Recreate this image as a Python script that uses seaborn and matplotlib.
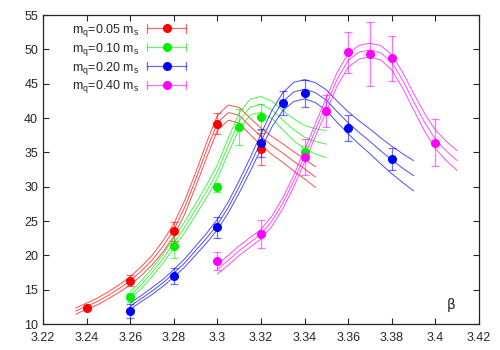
import numpy as np
import pandas as pd
import seaborn as sns
import matplotlib.pyplot as plt
from matplotlib.lines import Line2D
from matplotlib.legend_handler import HandlerBase

# measured points (beta, value, error)
red_beta = [3.24, 3.26, 3.28, 3.30, 3.32]
red_val = [12.4, 16.3, 23.5, 39.2, 35.5]
red_err = [0.4, 0.8, 1.4, 1.5, 2.3]

green_beta = [3.26, 3.28, 3.30, 3.31, 3.32, 3.34]
green_val = [13.9, 21.4, 29.9, 38.7, 40.2, 35.0]
green_err = [0.7, 1.8, 0.7, 2.6, 1.9, 1.0]

blue_beta = [3.26, 3.28, 3.30, 3.32, 3.33, 3.34, 3.36, 3.38]
blue_val = [11.9, 17.0, 24.1, 36.4, 42.2, 43.6, 38.5, 34.0]
blue_err = [1.0, 1.2, 1.5, 2.0, 1.7, 2.0, 1.9, 1.6]

mag_beta = [3.30, 3.32, 3.34, 3.35, 3.36, 3.37, 3.38, 3.40]
mag_val = [19.2, 23.1, 34.3, 41.0, 49.6, 49.3, 48.7, 36.4]
mag_err = [1.3, 2.0, 2.6, 2.3, 3.0, 4.7, 3.3, 3.4]

# fit curves (centre and half width of the band)
red_fit_beta = [3.235, 3.24, 3.245, 3.25, 3.255, 3.26, 3.265, 3.27, 3.275, 3.28, 3.285, 3.29,
                3.295, 3.30, 3.305, 3.31, 3.315, 3.32, 3.325, 3.33, 3.335, 3.34, 3.345]
red_fit = [11.9, 12.6, 13.3, 14.2, 15.2, 16.3, 17.7, 19.3, 21.3, 23.7, 27.0, 31.0,
           35.3, 39.3, 40.8, 40.4, 38.8, 37.3, 36.0, 34.9, 33.7, 32.6, 31.4]
red_band = [0.45, 0.45, 0.5, 0.5, 0.55, 0.6, 0.65, 0.7, 0.8, 0.9, 1.0, 1.0,
            1.1, 1.1, 1.1, 1.15, 1.2, 1.25, 1.3, 1.35, 1.4, 1.45, 1.5]

green_fit_beta = [3.26, 3.265, 3.27, 3.275, 3.28, 3.285, 3.29, 3.295, 3.30, 3.305,
                  3.31, 3.315, 3.32, 3.325, 3.33, 3.335, 3.34, 3.345, 3.35]
green_fit = [14.2, 15.7, 17.5, 19.5, 21.8, 24.1, 26.7, 29.3, 32.2, 36.0,
             39.6, 41.6, 42.0, 41.2, 39.7, 38.3, 37.2, 36.6, 36.2]
green_band = [0.5, 0.55, 0.6, 0.65, 0.7, 0.8, 0.85, 0.9, 1.0, 1.1,
              1.15, 1.15, 1.15, 1.25, 1.4, 1.6, 1.7, 1.85, 1.95]

blue_fit_beta = [3.26, 3.265, 3.27, 3.275, 3.28, 3.285, 3.29, 3.295, 3.30, 3.305, 3.31, 3.315,
                 3.32, 3.325, 3.33, 3.335, 3.34, 3.345, 3.35, 3.355, 3.36, 3.365, 3.37,
                 3.375, 3.38, 3.385, 3.39]
blue_fit = [12.6, 13.7, 14.8, 16.0, 17.4, 18.9, 20.7, 22.5, 24.5, 27.0, 30.0, 33.2,
            36.6, 39.9, 42.4, 43.8, 44.2, 43.7, 42.6, 40.9, 39.3, 37.9, 36.6,
            35.2, 33.9, 32.7, 31.6]
blue_band = [0.45, 0.45, 0.5, 0.5, 0.55, 0.6, 0.65, 0.7, 0.75, 0.8, 0.9, 1.0,
             1.1, 1.2, 1.3, 1.4, 1.4, 1.45, 1.5, 1.55, 1.6, 1.7, 1.8,
             1.9, 2.0, 2.1, 2.2]

mag_fit_beta = [3.30, 3.305, 3.31, 3.315, 3.32, 3.325, 3.33, 3.335, 3.34, 3.345, 3.35, 3.355,
                3.36, 3.365, 3.37, 3.375, 3.38, 3.385, 3.39, 3.395, 3.40, 3.405, 3.41]
mag_fit = [18.0, 19.3, 20.7, 21.9, 23.1, 25.0, 27.6, 30.8, 34.5, 38.3, 42.0, 45.7,
           48.4, 49.6, 49.9, 49.5, 48.1, 45.5, 42.4, 39.4, 36.9, 35.2, 33.8]
mag_band = [0.7, 0.7, 0.7, 0.7, 0.7, 0.75, 0.8, 0.85, 0.9, 0.95, 1.0, 1.0,
            1.0, 1.0, 1.0, 1.05, 1.1, 1.15, 1.2, 1.3, 1.35, 1.4, 1.45]

labels = ["m$_\\mathregular{q}$=0.05 m$_\\mathregular{s}$",
          "m$_\\mathregular{q}$=0.10 m$_\\mathregular{s}$",
          "m$_\\mathregular{q}$=0.20 m$_\\mathregular{s}$",
          "m$_\\mathregular{q}$=0.40 m$_\\mathregular{s}$"]
colors = ["#ff0000", "#00ee00", "#0000ff", "#ff00ff"]

series = [
    (red_beta, red_val, red_err, red_fit_beta, red_fit, red_band),
    (green_beta, green_val, green_err, green_fit_beta, green_fit, green_band),
    (blue_beta, blue_val, blue_err, blue_fit_beta, blue_fit, blue_band),
    (mag_beta, mag_val, mag_err, mag_fit_beta, mag_fit, mag_band),
]


# gnuplot style key sample: horizontal bar with end caps and a dot in the middle
class HBarHandler(HandlerBase):
    def create_artists(self, legend, orig_handle, xdescent, ydescent,
                       width, height, fontsize, trans):
        col = orig_handle.get_color()
        y = height / 2 - ydescent
        x0, x1 = -xdescent, -xdescent + width
        cap = 3.0
        arts = [
            Line2D([x0, x1], [y, y], color=col, lw=0.9, alpha=0.6, transform=trans),
            Line2D([x0, x0], [y - cap, y + cap], color=col, lw=0.9, alpha=0.6, transform=trans),
            Line2D([x1, x1], [y - cap, y + cap], color=col, lw=0.9, alpha=0.6, transform=trans),
            Line2D([(x0 + x1) / 2], [y], marker="o", ms=5.5, color=col, ls="none",
                   transform=trans),
        ]
        return arts


sns.set_style("ticks")
plt.rcParams['font.family'] = ['Liberation Sans', 'DejaVu Sans']
plt.rcParams['mathtext.fontset'] = 'custom'
plt.rcParams['mathtext.rm'] = 'Liberation Sans'

fig = plt.figure(figsize=(5, 3.5), dpi=100)
ax = fig.add_axes([0.086, 0.074, 0.872, 0.883])

handles = []
for (b, v, e, fb, fv, fw), lab, col in zip(series, labels, colors):
    fit = pd.DataFrame({"beta": fb, "mid": fv, "w": fw})
    fit["lo"] = fit["mid"] - fit["w"]
    fit["hi"] = fit["mid"] + fit["w"]
    for key in ["lo", "mid", "hi"]:
        sns.lineplot(data=fit, x="beta", y=key, ax=ax, color=col, lw=0.7, alpha=0.7)
    eb = ax.errorbar(b, v, yerr=e, fmt="o", color=col, ms=5.5, ecolor=col, elinewidth=0.9,
                     capsize=3, capthick=0.9, zorder=5, mec=col)
    for part in eb.lines[1] + eb.lines[2]:
        part.set_alpha(0.55)
    handles.append(Line2D([], [], color=col, label=lab))

ax.set_xlim(3.22, 3.42)
ax.set_ylim(10, 55)
ax.set_xticks(np.arange(3.22, 3.4201, 0.02))
ax.set_xticklabels(["3.22", "3.24", "3.26", "3.28", "3.3", "3.32", "3.34",
                    "3.36", "3.38", "3.4", "3.42"])
ax.set_yticks(np.arange(10, 56, 5))
ax.set_xlabel("")
ax.set_ylabel("")
ax.tick_params(direction="in", top=True, right=True, labelsize=9, length=4, width=0.8)
ax.tick_params(axis="x", pad=6)
for s in ax.spines.values():
    s.set_linewidth(0.9)

ax.text(0.925, 0.05, "\u03b2", transform=ax.transAxes, fontsize=10,
        family=['DejaVu Sans'])

ax.legend(handles=handles, handler_map={Line2D: HBarHandler()},
          loc="upper right", bbox_to_anchor=(0.328, 0.978), frameon=False,
          markerfirst=False, fontsize=9, handlelength=3.1, handletextpad=0.65,
          borderaxespad=0, borderpad=0, labelspacing=0.15)

fig.savefig("out.png", dpi=100)
